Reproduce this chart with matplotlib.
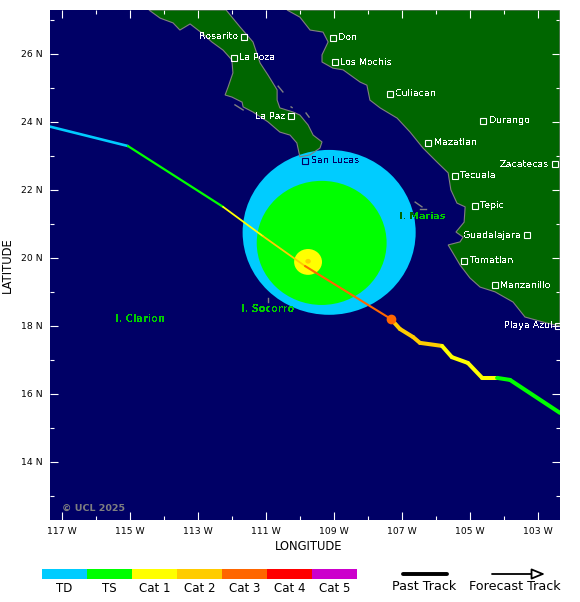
import matplotlib
matplotlib.use("Agg")
import matplotlib.pyplot as plt
from matplotlib.lines import Line2D
from matplotlib.patches import Ellipse, Polygon
from matplotlib.transforms import Bbox, TransformedBbox

# =========================
# DATA
# =========================
OCEAN = "#000066"
LAND = "#006600"
COAST = "#808080"
cat_names = ["TD", "TS", "Cat 1", "Cat 2", "Cat 3", "Cat 4", "Cat 5"]
cat_colors = ["#00ccff", "#00ff00", "#ffff00", "#ffcc00", "#ff6600", "#ff0000", "#cc00cc"]

baja_lon = [-114.45, -114.12, -113.74, -113.54, -113.24, -112.89, -112.60, -112.27, -112.01, -111.98,
            -112.12, -112.21, -112.01, -111.71, -111.68, -111.39, -110.95, -110.60, -110.30, -110.10,
            -110.01, -109.71, -109.42, -109.36, -109.62, -109.77, -110.01, -110.21, -110.60, -110.68,
            -110.68, -110.95, -111.18, -111.39, -111.77, -112.18]
baja_lat = [27.29, 27.05, 26.91, 26.70, 26.88, 26.61, 26.35, 26.11, 25.82, 25.44,
            25.03, 24.79, 24.73, 24.58, 24.44, 24.29, 24.00, 23.70, 23.61, 23.38,
            22.97, 23.03, 23.23, 23.41, 23.61, 23.91, 24.20, 24.29, 24.41, 24.64,
            24.94, 25.38, 25.73, 26.35, 26.79, 27.29]

main_lon = [-110.39, -110.01, -109.71, -109.33, -109.18, -109.36, -109.36, -109.04, -108.74, -108.24,
            -108.04, -107.95, -107.65, -107.15, -106.77, -106.39, -105.98, -105.65, -105.57, -105.39,
            -105.15, -105.18, -105.42, -105.21, -105.30, -105.65, -105.30, -105.01, -104.71, -104.27,
            -103.74, -103.39, -102.74, -102.36, -102.36]
main_lat = [27.29, 27.08, 26.70, 26.64, 26.35, 25.97, 25.76, 25.58, 25.53, 25.17,
            25.08, 24.64, 24.41, 24.11, 23.70, 23.23, 22.82, 22.50, 22.00, 21.61,
            21.50, 21.05, 20.76, 20.61, 20.47, 20.38, 19.79, 19.41, 19.14, 19.00,
            18.70, 18.26, 18.08, 18.00, 27.29]

islet_lons = [[-110.65, -110.51], [-111.92, -111.68], [-110.27, -110.24], [-109.83, -109.74],
              [-106.62, -106.42], [-106.48, -106.30], [-110.95, -110.95]]
islet_lats = [[25.05, 24.88], [24.50, 24.35], [24.44, 24.42], [24.26, 24.14],
              [21.64, 21.50], [21.44, 21.44], [18.82, 18.70]]

# wind radii: centre lon, centre lat, width, height
radii_lon = [-109.15, -109.37, -109.77, -109.77]
radii_lat = [20.75, 20.44, 19.88, 19.90]
radii_w = [5.09, 3.82, 0.82, 0.16]
radii_h = [4.85, 3.65, 0.76, 0.14]
radii_cat = [0, 1, 2, 3]

# forecast track, one category per segment
fc_lon = [-117.36, -115.07, -112.27, -111.10, -109.86, -107.33]
fc_lat = [23.86, 23.29, 21.50, 20.64, 19.76, 18.20]
fc_cat = [0, 1, 2, 3, 4]
fc_width = [1.9, 1.6, 1.3, 1.3, 1.5]

# past track
past_lon = [-107.33, -107.07, -106.68, -106.48, -105.83, -105.54, -105.07, -104.65, -104.21, -103.83, -102.36]
past_lat = [18.20, 17.91, 17.67, 17.50, 17.41, 17.08, 16.91, 16.47, 16.47, 16.41, 15.44]
past_cat = [3, 3, 3, 3, 2, 2, 2, 2, 1, 1]

city_names = ["Rosarito", "La Poza", "Don", "Los Mochis", "Culiacan", "Durango", "Mazatlan", "Zacatecas",
              "Tecuala", "Tepic", "Guadalajara", "Tomatlan", "Manzanillo", "Playa Azul", "La Paz", "San Lucas"]
city_lon = [-111.65, -111.96, -109.04, -108.98, -107.36, -104.62, -106.23, -102.52,
            -105.46, -104.86, -103.32, -105.17, -104.27, -102.42, -110.26, -109.86]
city_lat = [26.50, 25.88, 26.47, 25.76, 24.82, 24.03, 23.38, 22.76,
            22.41, 21.53, 20.66, 19.91, 19.20, 18.00, 24.17, 22.86]
labels_left = ["Rosarito", "Zacatecas", "Guadalajara", "Playa Azul", "La Paz"]

lon_major = [-117, -115, -113, -111, -109, -107, -105, -103]
lon_minor = [-116, -114, -112, -110, -108, -106, -104]
lon_labels = ["117 W", "115 W", "113 W", "111 W", "109 W", "107 W", "105 W", "103 W"]
lat_major = [14, 16, 18, 20, 22, 24, 26]
lat_minor = [13, 15, 17, 19, 21, 23, 25, 27]
lat_labels = ["14 N", "16 N", "18 N", "20 N", "22 N", "24 N", "26 N"]

# =========================
# MAP
# =========================
W, H = 580, 602
fig = plt.figure(figsize=(W / 100, H / 100), dpi=100)
ax = fig.add_axes([50 / W, (H - 520) / H, 510 / W, 510 / H])
ax.set_xlim(-117.36, -102.36)
ax.set_ylim(12.29, 27.29)
ax.set_facecolor(OCEAN)
for s in ax.spines.values():
    s.set_visible(False)

for lons, lats in [(baja_lon, baja_lat), (main_lon, main_lat)]:
    pts = list(zip(lons, lats))
    ax.add_patch(Polygon(pts, closed=True, fc=LAND, ec="none", zorder=1))
    ax.add_patch(Polygon(pts, closed=True, fc="none", ec=COAST, lw=0.8, zorder=3))
for lons, lats in zip(islet_lons, islet_lats):
    ax.plot(lons, lats, color=COAST, lw=1.0, zorder=3)

for lon, lat, w, h, c in zip(radii_lon, radii_lat, radii_w, radii_h, radii_cat):
    ax.add_patch(Ellipse((lon, lat), w, h, fc=cat_colors[c], ec="none", zorder=2))

for i, c in enumerate(fc_cat):
    ax.plot(fc_lon[i:i + 2], fc_lat[i:i + 2], color=cat_colors[c], lw=fc_width[i],
            solid_capstyle="round", zorder=4)
for i, c in enumerate(past_cat):
    ax.plot(past_lon[i:i + 2], past_lat[i:i + 2], color=cat_colors[c], lw=2.9,
            solid_capstyle="round", solid_joinstyle="round", zorder=4)
ax.plot(past_lon[0], past_lat[0], "o", color=cat_colors[4], ms=7, mew=0, zorder=5)

# cities
for name, lon, lat in zip(city_names, city_lon, city_lat):
    col = OCEAN if name == "San Lucas" else "white"
    ax.plot(lon, lat, "s", mfc="none", mec=col, ms=4.6, mew=0.8, zorder=6)
    left = name in labels_left
    ax.annotate(name, (lon, lat), xytext=(-4 if left else 4, 0), textcoords="offset points",
                ha="right" if left else "left", va="center", color=col, fontsize=6.8,
                antialiased=False, zorder=6, annotation_clip=False)

# island names
ISLAND = "#00cc00"
ax.text(-115.45, 18.20, "I. Clarion", color=ISLAND, fontsize=7, fontweight="bold",
        va="center", antialiased=False, zorder=6)
ax.text(-111.74, 18.51, "I. Socorro", color=ISLAND, fontsize=7, fontweight="bold",
        va="center", antialiased=False, zorder=6)
ax.text(-107.10, 21.23, "I. Marias", color=ISLAND, fontsize=6.8, fontweight="bold",
        va="center", antialiased=False, zorder=1.5)
dark = ax.text(-107.10, 21.23, "I. Marias", color=LAND, fontsize=6.8, fontweight="bold",
               va="center", antialiased=False, zorder=6)
dark.set_clip_box(TransformedBbox(Bbox.from_extents(-117.36, 12.29, -106.65, 27.29), ax.transData))
dark.set_clip_on(True)

ax.text(-117.01, 12.63, "\u00a9 UCL 2025", color=COAST, fontsize=6.8, fontweight="bold",
        va="center", zorder=6)

# ticks
ax.set_xticks(lon_major, lon_labels)
ax.set_xticks(lon_minor, minor=True)
ax.set_yticks(lat_major, lat_labels)
ax.set_yticks(lat_minor, minor=True)
ax.tick_params(which="both", direction="in", top=True, right=True, color="white", width=0.8, zorder=7)
ax.tick_params(which="major", length=6, labelsize=6.7, pad=5)
ax.tick_params(which="minor", length=3)
ax.set_xlabel("LONGITUDE", fontsize=8.3)
ax.set_ylabel("LATITUDE", fontsize=8.3)
ax.xaxis.set_label_coords(259 / 510, -20 / 510)
ax.yaxis.set_label_coords(-36 / 510, 0.5)

# =========================
# LEGEND
# =========================
cax = fig.add_axes([42 / W, (H - 579) / H, 315 / W, 10 / H])
cax.bar(range(len(cat_names)), [1] * len(cat_names), width=1, align="edge", color=cat_colors)
cax.set_xlim(0, len(cat_names))
cax.set_ylim(0, 1)
cax.set_yticks([])
cax.set_xticks([i + 0.5 for i in range(len(cat_names))], cat_names)
cax.tick_params(axis="x", length=0, labelsize=8.5, pad=2)
for s in cax.spines.values():
    s.set_visible(False)

fy = (H - 574) / H
fig.add_artist(Line2D([403 / W, 447 / W], [fy, fy], color="black", lw=2.8, solid_capstyle="round"))
ann = fig.add_axes([0, 0, 1, 1], facecolor="none")
ann.axis("off")
ann.annotate("", xy=(545 / W, fy), xytext=(492 / W, fy), xycoords="figure fraction",
             arrowprops=dict(arrowstyle="-|>,head_length=0.8,head_width=0.33", color="black",
                             fc="white", lw=1.3, shrinkA=0, shrinkB=0))
fig.text(424 / W, (H - 587) / H, "Past Track", ha="center", va="center", fontsize=9.2)
fig.text(514.5 / W, (H - 587) / H, "Forecast Track", ha="center", va="center", fontsize=9.2)

plt.savefig("out.png", dpi=100)
